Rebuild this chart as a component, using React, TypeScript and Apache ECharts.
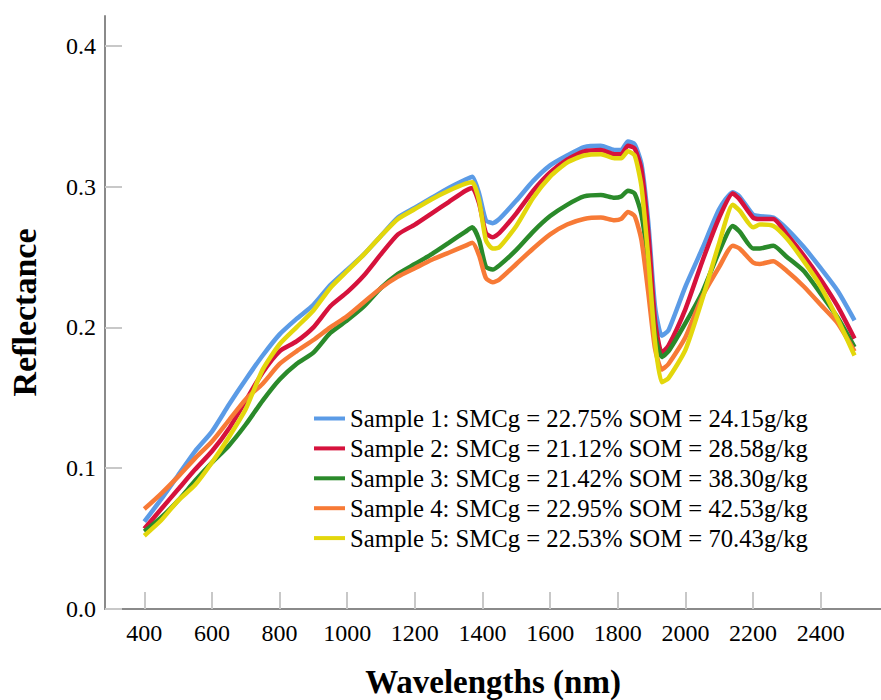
import { useEffect, useRef } from "react";
import * as echarts from "echarts";

const wavelengths = [400, 450, 500, 550, 600, 650, 700, 750, 800, 850, 900, 950, 1000, 1050, 1100, 1150, 1200, 1250, 1300, 1350, 1370, 1390, 1410, 1430, 1450, 1500, 1550, 1600, 1650, 1700, 1750, 1790, 1810, 1830, 1850, 1870, 1890, 1910, 1930, 1950, 2000, 2050, 2100, 2140, 2160, 2200, 2220, 2260, 2300, 2350, 2400, 2450, 2500];

const sample1 = [0.062, 0.078, 0.095, 0.112, 0.126, 0.145, 0.163, 0.180, 0.195, 0.206, 0.216, 0.230, 0.241, 0.252, 0.265, 0.278, 0.285, 0.292, 0.299, 0.305, 0.307, 0.295, 0.276, 0.274, 0.277, 0.290, 0.304, 0.315, 0.322, 0.328, 0.329, 0.326, 0.326, 0.332, 0.330, 0.316, 0.275, 0.215, 0.194, 0.198, 0.229, 0.256, 0.284, 0.296, 0.293, 0.280, 0.279, 0.278, 0.270, 0.257, 0.242, 0.226, 0.205];
const sample2 = [0.057, 0.071, 0.085, 0.099, 0.112, 0.128, 0.148, 0.168, 0.183, 0.190, 0.200, 0.215, 0.225, 0.237, 0.252, 0.266, 0.273, 0.281, 0.289, 0.297, 0.299, 0.288, 0.267, 0.264, 0.267, 0.281, 0.297, 0.310, 0.319, 0.325, 0.326, 0.323, 0.323, 0.329, 0.327, 0.312, 0.268, 0.205, 0.182, 0.187, 0.213, 0.247, 0.278, 0.295, 0.291, 0.278, 0.277, 0.277, 0.266, 0.251, 0.234, 0.215, 0.192];
const sample3 = [0.055, 0.065, 0.077, 0.091, 0.104, 0.116, 0.131, 0.148, 0.163, 0.174, 0.182, 0.196, 0.205, 0.215, 0.228, 0.238, 0.245, 0.252, 0.260, 0.268, 0.271, 0.262, 0.243, 0.241, 0.244, 0.255, 0.268, 0.279, 0.287, 0.293, 0.294, 0.292, 0.293, 0.297, 0.295, 0.280, 0.245, 0.195, 0.179, 0.183, 0.203, 0.225, 0.254, 0.272, 0.268, 0.256, 0.256, 0.258, 0.250, 0.240, 0.224, 0.207, 0.186];
const sample4 = [0.071, 0.082, 0.094, 0.107, 0.119, 0.134, 0.149, 0.160, 0.174, 0.183, 0.191, 0.200, 0.208, 0.218, 0.228, 0.236, 0.242, 0.248, 0.253, 0.258, 0.260, 0.251, 0.235, 0.232, 0.234, 0.245, 0.256, 0.266, 0.273, 0.277, 0.278, 0.276, 0.277, 0.282, 0.279, 0.262, 0.225, 0.185, 0.170, 0.174, 0.193, 0.222, 0.243, 0.258, 0.256, 0.246, 0.245, 0.247, 0.240, 0.229, 0.216, 0.203, 0.183];
const sample5 = [0.052, 0.063, 0.077, 0.088, 0.104, 0.122, 0.142, 0.170, 0.188, 0.200, 0.212, 0.228, 0.240, 0.252, 0.265, 0.277, 0.284, 0.291, 0.297, 0.302, 0.303, 0.290, 0.262, 0.256, 0.257, 0.272, 0.292, 0.307, 0.317, 0.322, 0.323, 0.320, 0.320, 0.325, 0.322, 0.300, 0.250, 0.190, 0.161, 0.164, 0.184, 0.220, 0.260, 0.287, 0.283, 0.271, 0.273, 0.272, 0.263, 0.247, 0.229, 0.206, 0.180];

const seriesNames = [
  "Sample 1: SMCg = 22.75% SOM = 24.15g/kg",
  "Sample 2: SMCg = 21.12% SOM = 28.58g/kg",
  "Sample 3: SMCg = 21.42% SOM = 38.30g/kg",
  "Sample 4: SMCg = 22.95% SOM = 42.53g/kg",
  "Sample 5: SMCg = 22.53% SOM = 70.43g/kg",
];
const seriesColors = ["#5b9be6", "#d6123c", "#2a8a2a", "#f77a36", "#e3d70c"];
const xTicks = [400, 600, 800, 1000, 1200, 1400, 1600, 1800, 2000, 2200, 2400];
const yTicks = [0, 0.1, 0.2, 0.3, 0.4];

const FONT = "'Liberation Serif', 'Times New Roman', serif";

export default function App() {
  const ref = useRef<HTMLDivElement>(null);
  useEffect(() => {
    const chart = echarts.init(ref.current!, null, { renderer: "svg" });
    const all = [sample1, sample2, sample3, sample4, sample5];
    chart.setOption({
      animation: false,
      backgroundColor: "#ffffff",
      grid: { left: 105, right: 0, top: 16, bottom: 91, containLabel: false, outerBoundsMode: "none" },
      legend: {
        orient: "vertical",
        left: 314,
        top: 406,
        padding: 0,
        itemWidth: 31,
        itemHeight: 4,
        itemGap: 4.9,
        icon: "rect",
        textStyle: { fontFamily: FONT, fontSize: 24.7, color: "#000" },
        data: seriesNames,
      },
      xAxis: {
        type: "value",
        min: 283.8,
        max: 2578.3,
        name: "Wavelengths (nm)",
        nameLocation: "middle",
        nameGap: 56,
        nameTextStyle: { fontFamily: FONT, fontSize: 33, fontWeight: "bold", color: "#000" },
        axisLine: { show: true, lineStyle: { color: "#8a8a8a", width: 2 } },
        axisTick: { show: true, inside: true, length: 17, customValues: xTicks, lineStyle: { color: "#c8c8c8", width: 2 } },
        axisLabel: {
          customValues: xTicks,
          margin: 12,
          fontFamily: FONT,
          fontSize: 24,
          color: "#000",
          formatter: (v: number) => String(v),
        },
        splitLine: { show: false },
      },
      yAxis: {
        type: "value",
        min: 0,
        max: 0.4211,
        name: "Reflectance",
        nameLocation: "middle",
        nameGap: 64,
        nameRotate: 90,
        nameTextStyle: { fontFamily: FONT, fontSize: 34, fontWeight: "bold", color: "#000" },
        axisLine: { show: true, lineStyle: { color: "#8a8a8a", width: 2 } },
        axisTick: { show: true, inside: true, length: 17, customValues: yTicks, lineStyle: { color: "#c8c8c8", width: 2 } },
        axisLabel: {
          customValues: yTicks,
          margin: 9,
          padding: [8, 0, 0, 0],
          fontFamily: FONT,
          fontSize: 24,
          color: "#000",
          formatter: (v: number) => v.toFixed(1),
        },
        splitLine: { show: false },
      },
      series: all.map((vals, i) => ({
        name: seriesNames[i],
        type: "line",
        data: wavelengths.map((w, j) => [w, vals[j]]),
        showSymbol: false,
        symbol: "none",
        smooth: 0.2,
        color: seriesColors[i],
        lineStyle: { width: 4.5, color: seriesColors[i] },
        z: 2 + i,
      })),
    });
    return () => chart.dispose();
  }, []);
  return (
    <div
      ref={ref}
      style={{ position: "fixed", left: 0, top: 0, width: 881, height: 700, background: "#fff" }}
    />
  );
}
